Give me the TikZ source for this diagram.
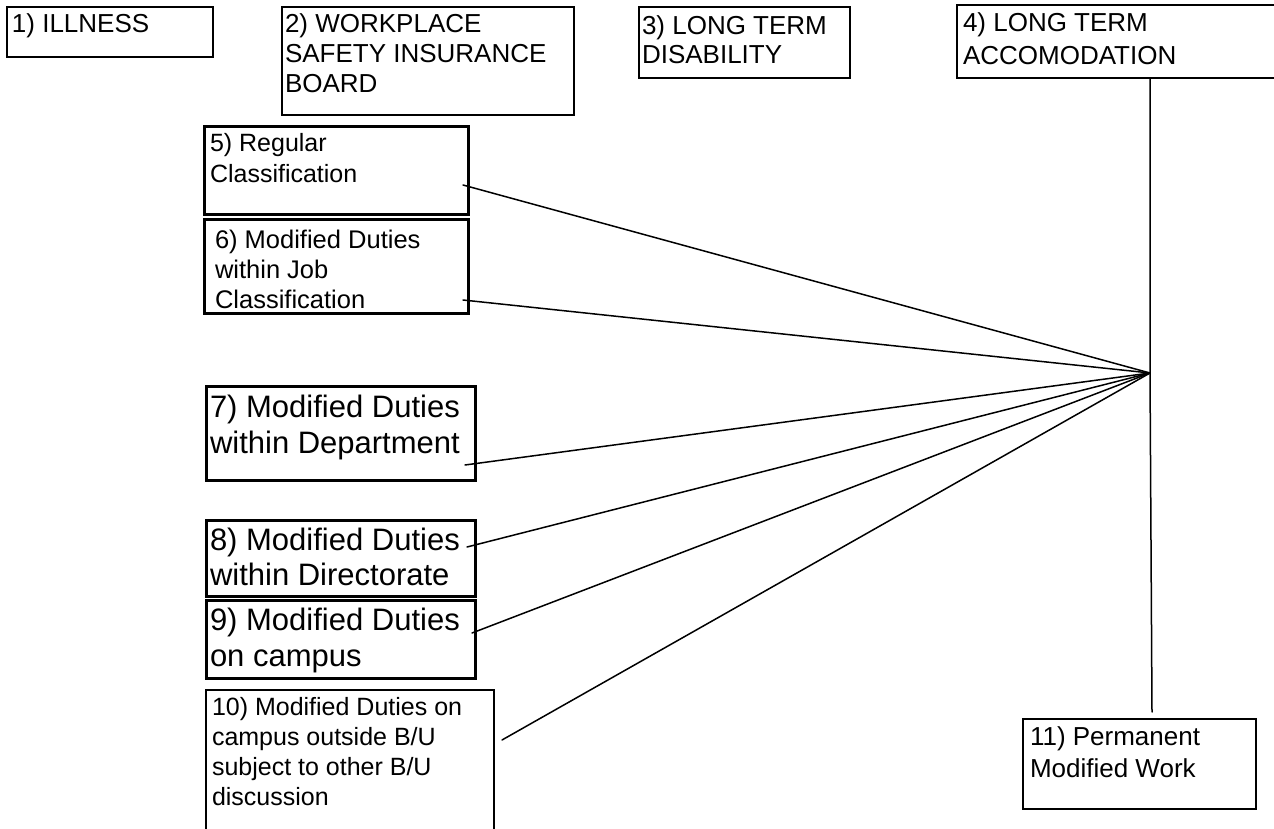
\documentclass[tikz,border=0pt]{standalone}
\usepackage{fontspec}
\setmainfont{Liberation Sans}
\begin{document}
\begin{tikzpicture}[x=1pt,y=-1pt,
  thinbox/.style={draw, rectangle, line width=1.5pt, anchor=north west, inner sep=0pt, outer sep=0pt},
  thickbox/.style={thinbox, line width=3pt},
  txt/.style={anchor=north west, inner sep=0pt, outer sep=0pt, align=left},
  link/.style={line width=1.5pt, line cap=round}]
\useasboundingbox (0,0) rectangle (1274,829);
\clip (0,0) rectangle (1274,829);
% boxes
\node[thinbox, minimum width=206pt, minimum height=50pt] (b1) at (7,7) {};
\node[thinbox, minimum width=292pt, minimum height=108pt] (b2) at (282,7) {};
\node[thinbox, minimum width=211pt, minimum height=71pt] (b3) at (639,7) {};
\node[thinbox, minimum width=340pt, minimum height=73pt] (b4) at (957,5) {};
\node[thickbox, minimum width=264pt, minimum height=88pt] (b5) at (204,127) {};
\node[thickbox, minimum width=264pt, minimum height=93pt] (b6) at (204,220) {};
\node[thickbox, minimum width=269pt, minimum height=94pt] (b7) at (206,386) {};
\node[thickbox, minimum width=269pt, minimum height=76pt] (b8) at (206,520) {};
\node[thickbox, minimum width=269pt, minimum height=78pt] (b9) at (206,600) {};
\node[thinbox, minimum width=288pt, minimum height=160pt] (b10) at (206,690) {};
\node[thinbox, minimum width=233pt, minimum height=90pt] (b11) at (1023,719) {};
% texts
\node[txt, font=\fontsize{26}{30}\selectfont] (t1) at (12,12) {\strut 1) ILLNESS};
\node[txt, font=\fontsize{26}{30}\selectfont] (t2) at (285,12) {\strut 2) WORKPLACE\\\strut SAFETY INSURANCE\\\strut BOARD};
\node[txt, font=\fontsize{26}{29}\selectfont] (t3) at (642,14.7) {\strut 3) LONG TERM\\\strut DISABILITY};
\node[txt, font=\fontsize{26}{33}\selectfont] (t4) at (963,8.9) {\strut 4) LONG TERM\\\strut ACCOMODATION};
\node[txt, font=\fontsize{25}{31}\selectfont] (t5) at (210,130.3) {\strut 5) Regular\\\strut Classification};
\node[txt, font=\fontsize{25.5}{30}\selectfont] (t6) at (215,227) {\strut 6) Modified Duties\\\strut within Job\\\strut Classification};
\node[txt, font=\fontsize{31}{36}\selectfont] (t7) at (210,391.8) {\strut 7) Modified Duties\\\strut within Department};
\node[txt, font=\fontsize{31}{35}\selectfont] (t8) at (210,525.5) {\strut 8) Modified Duties\\\strut within Directorate};
\node[txt, font=\fontsize{31}{36}\selectfont] (t9) at (210,604.8) {\strut 9) Modified Duties\\\strut on campus};
\node[txt, font=\fontsize{25}{30}\selectfont] (t10) at (212,694) {\strut 10) Modified Duties on\\\strut campus outside B/U\\\strut subject to other B/U\\\strut discussion};
\node[txt, font=\fontsize{26}{32}\selectfont] (t11) at (1030,722.6) {\strut 11) Permanent\\\strut Modified Work};
% connector ends
\coordinate (hub) at (1150,373);
\coordinate (c5) at (463,185);
\coordinate (c6) at (463,300);
\coordinate (c7) at (465,465);
\coordinate (c8) at (467,547);
\coordinate (c9) at (472,633);
\coordinate (c10) at (502,740);
\coordinate (c11) at (1152,712);
% connectors
\draw[link] (b4.south -| hub) -- (hub) -- (c11);
\draw[link] (c5) -- (hub);
\draw[link] (c6) -- (hub);
\draw[link] (c7) -- (hub);
\draw[link] (c8) -- (hub);
\draw[link] (c9) -- (hub);
\draw[link] (c10) -- (hub);
\end{tikzpicture}
\end{document}
